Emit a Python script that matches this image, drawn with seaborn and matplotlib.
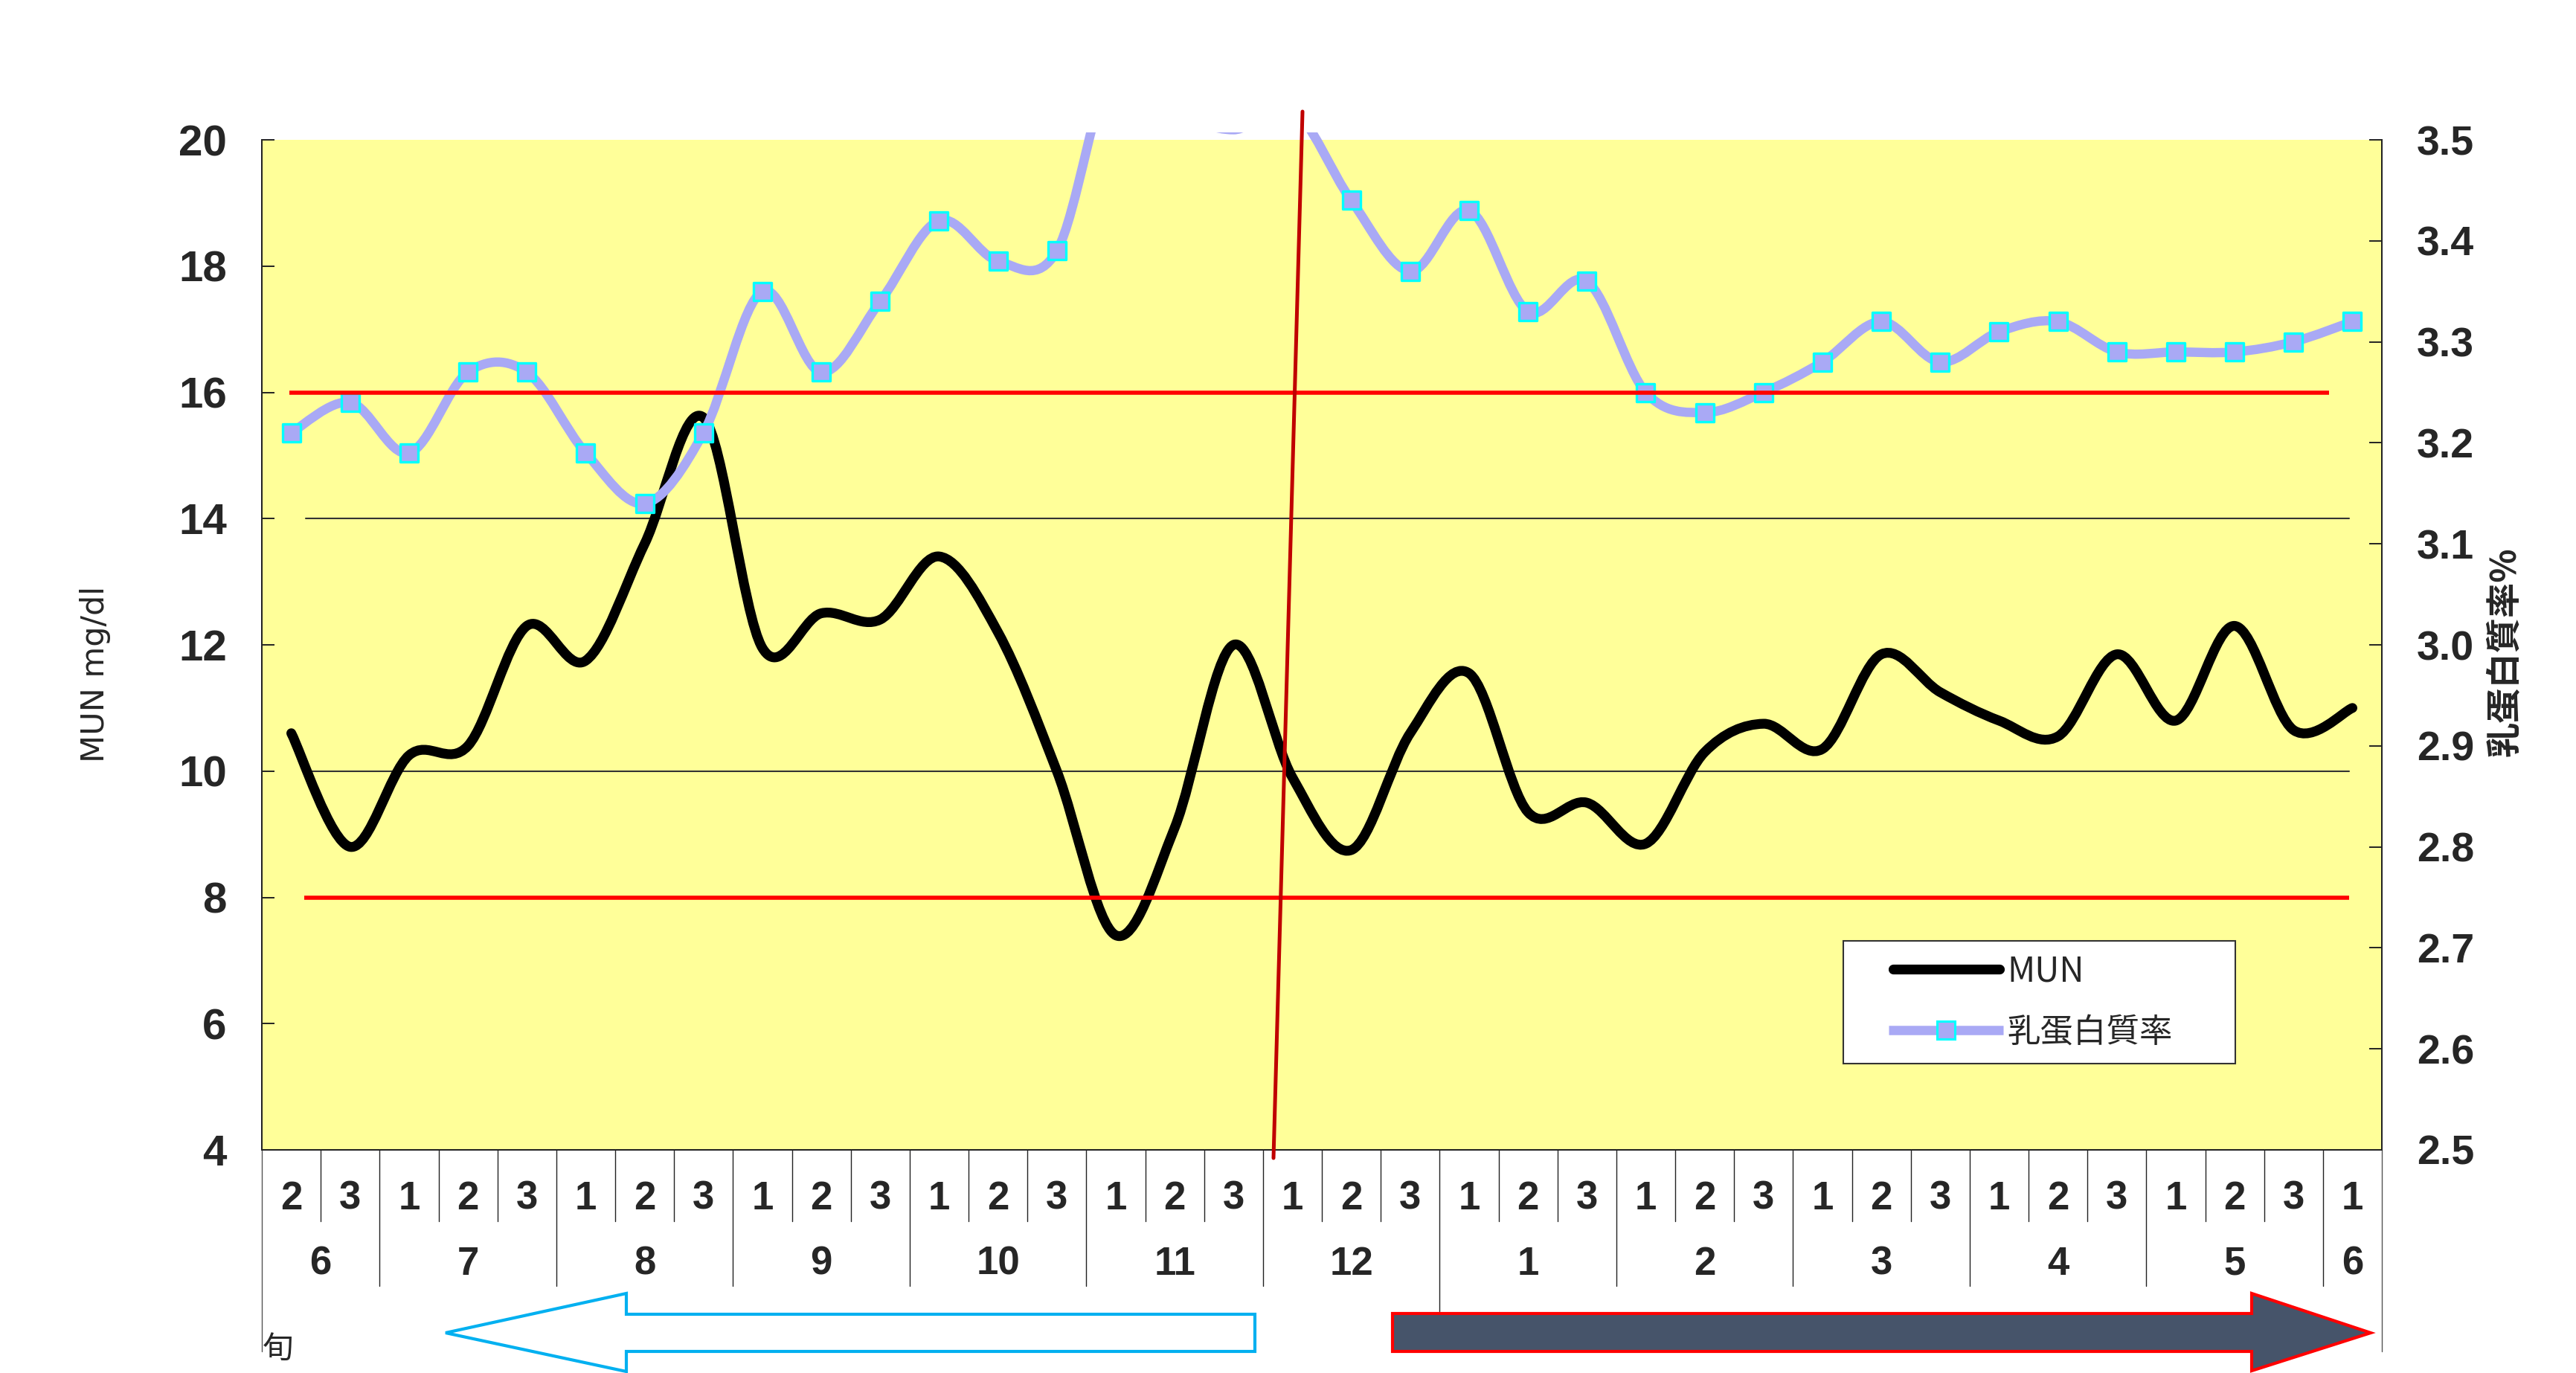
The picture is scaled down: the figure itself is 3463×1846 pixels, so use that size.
import numpy as np
import pandas as pd
import seaborn as sns
import matplotlib
matplotlib.use("Agg")
import matplotlib.pyplot as plt
from matplotlib import font_manager
from matplotlib.path import Path
from matplotlib.patches import PathPatch, Polygon, Rectangle
from matplotlib.lines import Line2D
import matplotlib.transforms as mtransforms

# 旬 (dekad) positions: June-2 .. next June-1
dekads = ['2', '3', '1', '2', '3', '1', '2', '3', '1', '2', '3', '1', '2', '3',
          '1', '2', '3', '1', '2', '3', '1', '2', '3', '1', '2', '3', '1', '2', '3',
          '1', '2', '3', '1', '2', '3', '1']
months = ['6', '7', '8', '9', '10', '11', '12', '1', '2', '3', '4', '5', '6']
month_len = [2, 3, 3, 3, 3, 3, 3, 3, 3, 3, 3, 3, 1]

mun = [10.6, 8.8, 10.25, 10.4, 12.3, 11.75, 13.6, 15.6, 11.95, 12.5, 12.4, 13.4,
       12.2, 10.0, 7.4, 9.1, 12.0, 9.9, 8.75, 10.6, 11.55, 9.35, 9.5, 8.85,
       10.3, 10.75, 10.35, 11.85, 11.25, 10.8, 10.55, 11.85, 10.8, 12.3, 10.65, 11.0]
protein = [3.21, 3.24, 3.19, 3.27, 3.27, 3.19, 3.14, 3.21, 3.35, 3.27, 3.34, 3.42,
           3.38, 3.39, 3.58, 3.53, 3.51, 3.53, 3.44, 3.37, 3.43, 3.33, 3.36, 3.25,
           3.23, 3.25, 3.28, 3.32, 3.28, 3.31, 3.32, 3.29, 3.29, 3.29, 3.30, 3.32]

mun_limits = [16, 8]      # red reference lines
mun_guides = [14, 10]     # thin black lines

df = pd.DataFrame({'idx': np.arange(len(dekads)), 'dekad': dekads,
                   'MUN': mun, 'protein': protein})

W, H = 3463, 1846
def fx(px):
    return px / W
def fy(py):
    return 1 - py / H

sns.set_theme(style='white')
names = {f.name for f in font_manager.fontManager.ttflist}
narrow = 'Liberation Sans Narrow' if 'Liberation Sans Narrow' in names else 'Liberation Sans'
plt.rcParams['font.family'] = ['Noto Sans CJK JP', 'DejaVu Sans']

YELLOW = '#FFFF99'
PCOL = '#A9A9F5'
CYAN = '#00FFFF'

fig = plt.figure(figsize=(W / 100, H / 100), dpi=100)
fig.patch.set_facecolor('white')
L, R, T, B = 352, 3202, 188, 1546
ax = fig.add_axes([fx(L), fy(B), fx(R) - fx(L), fy(T) - fy(B)])
ax.set_facecolor(YELLOW)
ax2 = ax.twinx()

ax.set_xlim(-0.5, len(dekads) - 0.5)
ax.set_ylim(4, 20)
ax2.set_ylim(2.5, 3.5)
ax.set_yticks(np.arange(4, 21, 2))
ax2.set_yticks(np.round(np.arange(2.5, 3.51, 0.1), 1))
ax2.set_yticklabels([f'{v:.1f}' for v in np.arange(2.5, 3.51, 0.1)])

for a in (ax, ax2):
    a.spines['top'].set_visible(False)
    for s in ('left', 'right', 'bottom'):
        a.spines[s].set_color('#222222')
        a.spines[s].set_linewidth(1.4)
    a.grid(False)

ax.set_xticks([])
ax.set_xticks(np.arange(0.5, len(dekads) - 1, 1.0), minor=True)
ax.tick_params(axis='x', which='minor', direction='in', length=11, width=1, color='#222222')
ax.tick_params(axis='y', direction='in', length=12, width=1.4, color='#222222',
               pad=34, labelsize=42, left=True)
ax2.tick_params(axis='y', direction='in', length=12, width=1.4, color='#222222',
                pad=34, labelsize=40, right=True)
for lab in ax.get_yticklabels():
    lab.set_family(narrow)
    lab.set_fontweight('bold')
for lab in ax2.get_yticklabels():
    lab.set_family('Liberation Sans')
    lab.set_fontweight('bold')


def smooth_path(xs, ys):
    # Excel-style smoothed line: cubic Bezier, control points from neighbours / 6
    pts = np.column_stack([xs, ys]).astype(float)
    n = len(pts)
    verts = [pts[0]]
    codes = [Path.MOVETO]
    for i in range(n - 1):
        p0 = pts[i - 1] if i > 0 else pts[i]
        p1, p2 = pts[i], pts[i + 1]
        p3 = pts[i + 2] if i + 2 < n else pts[i + 1]
        c1 = p1 + (p2 - p0) / 6.0
        c2 = p2 - (p3 - p1) / 6.0
        verts += [c1, c2, p2]
        codes += [Path.CURVE4] * 3
    return Path(verts, codes)


# clip region: plot area, extended up to the chart-area top for the protein line
clip_rect = Rectangle((fx(L), fy(B)), fx(R) - fx(L), fy(178) - fy(B),
                      transform=fig.transFigure, facecolor='none', edgecolor='none')

# thin guide lines
for v in mun_guides:
    ax.plot([0.25, 34.95], [v, v], color='#333333', lw=1.5, zorder=1)

mun_patch = PathPatch(smooth_path(df['idx'], df['MUN']), facecolor='none',
                      edgecolor='black', lw=9.5, capstyle='round', joinstyle='round', zorder=3)
ax.add_patch(mun_patch)

prot_patch = PathPatch(smooth_path(df['idx'], df['protein']), facecolor='none',
                       edgecolor=PCOL, lw=9, capstyle='butt', joinstyle='round', zorder=3)
ax2.add_patch(prot_patch)
prot_patch.set_clip_path(clip_rect)

vis = df[df['protein'] <= 3.5]
sns.scatterplot(data=vis, x='idx', y='protein', ax=ax2, marker='s', s=320,
                color=PCOL, edgecolor=CYAN, linewidth=2.4, zorder=4, legend=False)
ax2.set_xlabel('')
ax2.set_ylabel('')
ax.set_xlabel('')
ax.set_ylabel('')

# red reference lines (drawn over the data)
red_spans = [[(-0.03, 17.1), (17.1, 34.6)], [(0.22, 17.56), (17.56, 34.95)]]
for v, spans in zip(mun_limits, red_spans):
    for x0, x1 in spans:
        ax2.plot([x0, x1], [v, v], color='#FF0000', lw=4, transform=ax.transData,
                 zorder=6, solid_capstyle='butt')

# slanted divider line
fig.add_artist(Line2D([fx(1751), fx(1712)], [fy(150), fy(1557)], color='#C00000', lw=3.6))

# category table below the plot
btr = mtransforms.blended_transform_factory(ax.transData, ax.transAxes)
span = B - T
h_dek = -(1642 - B) / span
h_mon = -(1729 - B) / span
h_year = -(1763 - B) / span
h_edge = -(1817 - B) / span
y_dek = -(1612 - B) / span
y_mon = -(1700 - B) / span

bounds = list(np.cumsum(month_len)[:-1] - 0.5)
for k in range(len(dekads) - 1):
    b = k + 0.5
    bottom = h_dek
    if b in bounds:
        bottom = h_year if months[bounds.index(b) + 1] == '1' else h_mon
    ax.plot([b, b], [0, bottom], color='#222222', lw=1, transform=btr, clip_on=False)
for b in (-0.5, len(dekads) - 0.5):
    ax.plot([b, b], [0, h_edge], color='#555555', lw=1, transform=btr, clip_on=False)

for i, d in enumerate(dekads):
    ax.text(i, y_dek, d, transform=btr, ha='center', va='center', fontsize=38,
            family=narrow, fontweight='bold')
start = 0
for m, n in zip(months, month_len):
    ax.text(start + (n - 1) / 2, y_mon, m, transform=btr, ha='center', va='center',
            fontsize=38, family=narrow, fontweight='bold')
    start += n

fig.text(fx(353), fy(1814), '旬', ha='left', va='center', fontsize=30)

# axis titles
fig.text(fx(128), fy(906), 'MUN mg/dl', rotation=90, ha='center', va='center',
         fontsize=31, family=['DejaVu Sans'])
fig.text(fx(3368), fy(876), '乳蛋白質率%', rotation=90, ha='center', va='center',
         fontsize=34, fontweight='bold')

# legend box
fig.add_artist(Rectangle((fx(2478), fy(1430)), fx(3005) - fx(2478), fy(1265) - fy(1430),
                         transform=fig.transFigure, facecolor='white',
                         edgecolor='#333333', lw=1.5, zorder=7))
fig.add_artist(Line2D([fx(2545), fx(2688)], [fy(1303), fy(1303)], color='black', lw=9.5,
                      solid_capstyle='round', zorder=8))
fig.add_artist(Line2D([fx(2539), fx(2693)], [fy(1385), fy(1385)], color=PCOL, lw=9,
                      solid_capstyle='butt', zorder=8))
fig.add_artist(Line2D([fx(2616)], [fy(1385)], marker='s', markersize=17, color=PCOL,
                      markeredgecolor=CYAN, markeredgewidth=2.2, zorder=9))
fig.text(fx(2698), fy(1306), 'MUN', ha='left', va='center', fontsize=33, zorder=9)
fig.text(fx(2698), fy(1388), '乳蛋白質率', ha='left', va='center', fontsize=32, zorder=9)

# arrows below the table
blue = [(599, 1792), (842, 1739), (842, 1767), (1687, 1767), (1687, 1817), (842, 1817), (842, 1844)]
dark = [(1872, 1766), (3027, 1766), (3027, 1739), (3187, 1792), (3027, 1843), (3027, 1817), (1872, 1817)]
fig.add_artist(Polygon([(fx(a), fy(b)) for a, b in blue], closed=True, facecolor='white',
                       edgecolor='#00B0F0', lw=3, transform=fig.transFigure))
fig.add_artist(Polygon([(fx(a), fy(b)) for a, b in dark], closed=True, facecolor='#46546A',
                       edgecolor='#FF0000', lw=3, transform=fig.transFigure))

fig.savefig('out.png', dpi=100, facecolor='white')
